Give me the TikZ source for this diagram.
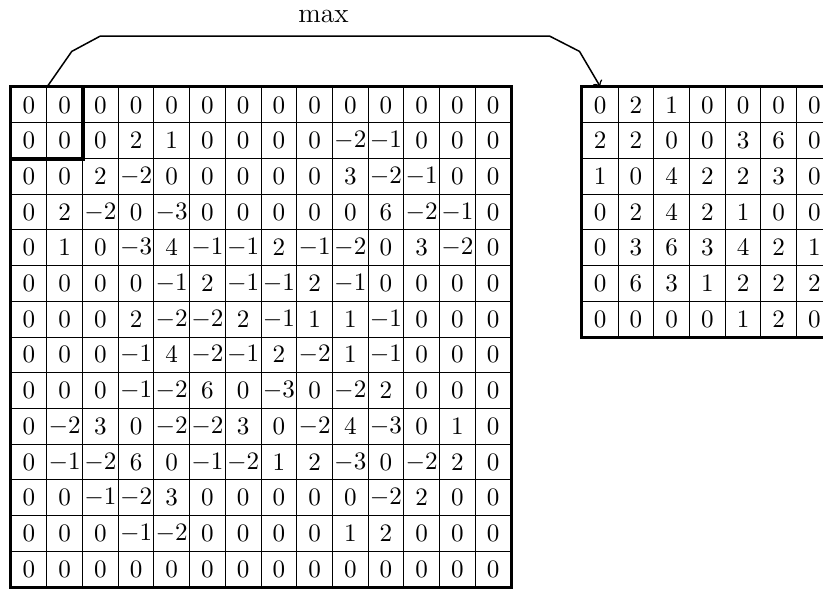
\documentclass[tikz,border=0pt]{standalone}
\tikzset{
  cell/.style={draw, line width=0.4pt, minimum size=0.5cm, inner sep=0pt},
  frame/.style={line width=1.3pt},
  link/.style={->, line width=0.6pt}
}
\begin{document}
\begin{tikzpicture}[x=0.5cm,y=0.5cm]
\useasboundingbox (-0.31,-0.03) rectangle (22.74,16.44);

% input feature map (14 x 14)
\foreach \row [count=\r] in {
  {0,0,0,0,0,0,0,0,0,0,0,0,0,0},
  {0,0,0,2,1,0,0,0,0,-2,-1,0,0,0},
  {0,0,2,-2,0,0,0,0,0,3,-2,-1,0,0},
  {0,2,-2,0,-3,0,0,0,0,0,6,-2,-1,0},
  {0,1,0,-3,4,-1,-1,2,-1,-2,0,3,-2,0},
  {0,0,0,0,-1,2,-1,-1,2,-1,0,0,0,0},
  {0,0,0,2,-2,-2,2,-1,1,1,-1,0,0,0},
  {0,0,0,-1,4,-2,-1,2,-2,1,-1,0,0,0},
  {0,0,0,-1,-2,6,0,-3,0,-2,2,0,0,0},
  {0,-2,3,0,-2,-2,3,0,-2,4,-3,0,1,0},
  {0,-1,-2,6,0,-1,-2,1,2,-3,0,-2,2,0},
  {0,0,-1,-2,3,0,0,0,0,0,-2,2,0,0},
  {0,0,0,-1,-2,0,0,0,0,1,2,0,0,0},
  {0,0,0,0,0,0,0,0,0,0,0,0,0,0}} {
  \foreach \v [count=\c] in \row {
    \node[cell] (L-\r-\c) at (\c-0.5,14.5-\r) {$\v$};
  }
}

% pooled output (7 x 7)
\foreach \row [count=\r] in {
  {0,2,1,0,0,0,0},
  {2,2,0,0,3,6,0},
  {1,0,4,2,2,3,0},
  {0,2,4,2,1,0,0},
  {0,3,6,3,4,2,1},
  {0,6,3,1,2,2,2},
  {0,0,0,0,1,2,0}} {
  \foreach \v [count=\c] in \row {
    \node[cell] (R-\r-\c) at (15.5+\c,14.5-\r) {$\v$};
  }
}

% outer frames and the 2 x 2 pooling window
\draw[frame] (L-14-1.south west) rectangle (L-1-14.north east);
\draw[frame] (L-2-1.south west) rectangle (L-1-2.north east);
\draw[frame] (R-7-1.south west) rectangle (R-1-7.north east);

% max operation
\draw[link] (L-1-1.north east) -- (1.7,15) -- (2.5,15.43) -- (15.08,15.43)
  -- (15.92,15) -- (R-1-1.north);
\node[anchor=base, font=\fontsize{11}{13}\selectfont] (op) at (8.75,15.8) {max};
\end{tikzpicture}
\end{document}
